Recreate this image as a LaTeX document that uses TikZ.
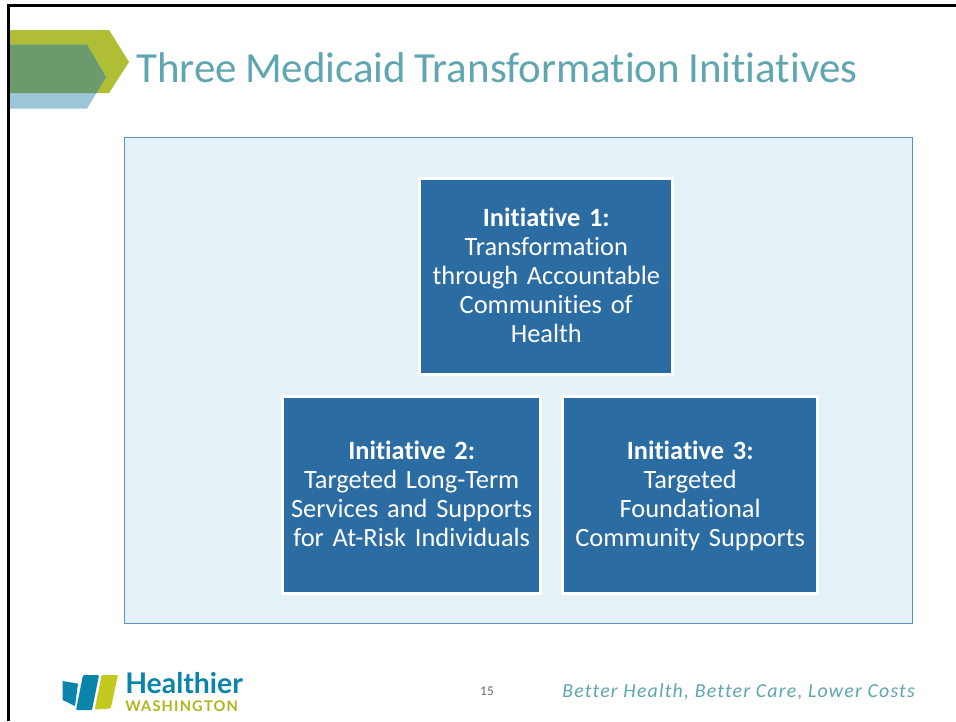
\documentclass[tikz,border=0pt]{standalone}
\usepackage{fontspec}
\setmainfont[Ligatures=NoCommon,WordSpace=0.85]{Carlito}
\newfontfamily\logofont{Lato}
\newfontfamily\washfont[LetterSpace=8.0]{Lato}
\newfontfamily\tagfont[LetterSpace=6.0,Ligatures=NoCommon]{Carlito}
\definecolor{slideolive}{HTML}{AFBE35}
\definecolor{slidegreen}{HTML}{6B9A6C}
\definecolor{slidesky}{HTML}{9DC5D8}
\definecolor{slideteal}{HTML}{5FA6B0}
\definecolor{panelfill}{HTML}{E4F1F6}
\definecolor{panelline}{HTML}{5B8FC7}
\definecolor{boxblue}{HTML}{2B6CA3}
\definecolor{logoblue}{HTML}{0A84AB}
\definecolor{logoolive}{HTML}{C3C91F}
\tikzset{
  initbox/.style={draw=white, line width=2.25pt, fill=boxblue, text=white, align=center,
    font=\fontsize{19.8}{21.75}\selectfont, inner sep=0pt, text width=182pt,
    execute at begin node={\rule{0pt}{19pt}}, execute at end node=\strut}
}
\begin{document}
\begin{tikzpicture}[x=0.75pt, y=-0.75pt]
    \useasboundingbox (0,0) rectangle (956,721);

    % Slide edge
    \fill[white] (0,0) rectangle (956,721);
    \draw[line width=2.3pt] (8.5,721) -- (8.5,5.5) -- (956,5.5);

    % Header arrows
    \fill[slideolive] (10,30) -- (109,30) -- (129,62) -- (109,93) -- (10,93) -- cycle;
    \fill[slidesky] (10,44.7) -- (87,44.7) -- (106,77) -- (87,108.7) -- (10,108.7) -- cycle;
    \fill[slidegreen] (10,44.7) -- (87,44.7) -- (106,77) -- (96.5,93) -- (10,93) -- cycle;
    \node[text=slideteal, font=\fontsize{32.2}{38}\selectfont, inner sep=0pt, anchor=base west] (title) at (136,82) {Three Medicaid Transformation Initiatives};

    % Panel
    \node[draw=panelline, fill=panelfill, line width=0.8pt, minimum width=591.5pt, minimum height=364.5pt, inner sep=0pt] (panel) at (518.5,380.5) {};

    % Nodes
    \node[initbox, minimum width=189.5pt, minimum height=147pt] (init1) at (546.3,276.2) {\textbf{Initiative 1:}\\Transformation\\through Accountable\\Communities of\\Health};
    \node[initbox, minimum width=193.5pt, minimum height=147.6pt] (init2) at (411.7,494.9) {\textbf{Initiative 2:}\\Targeted Long-Term\\Services and Supports\\for At-Risk Individuals};
    \node[initbox, minimum width=191.6pt, minimum height=147.6pt] (init3) at (690.2,494.9) {\textbf{Initiative 3:}\\Targeted\\Foundational\\Community Supports};

    % Logo
    \fill[logoblue] (62.7,681) -- (78,683.7) -- (75,706) -- (62.7,700) -- cycle;
    \fill[logoblue, rounded corners=0.8pt] (83,675) -- (99,675) -- (92,710) -- (76,710) -- cycle;
    \fill[logoolive, rounded corners=0.8pt] (101.7,675) -- (118,675) -- (110.7,708.5) -- (94.7,709.5) -- cycle;
    \node[text=logoblue, font=\logofont\bfseries\fontsize{21.3}{24}\selectfont, inner sep=0pt, anchor=base west] (healthier) at (125,693) {Healthier};
    \node[text=logoolive!90!black, font=\washfont\bfseries\fontsize{11}{12}\selectfont, inner sep=0pt, anchor=base west] (washington) at (125,711) {WASHINGTON};

    % Footer
    \node[text=black!60, font=\fontsize{10}{12}\selectfont, inner sep=0pt] (pagenum) at (487,691) {15};
    \node[text=slideteal, font=\tagfont\itshape\fontsize{14.9}{18}\selectfont, inner sep=0pt, anchor=base east] (tagline) at (915,697) {Better Health, Better Care, Lower Costs};
\end{tikzpicture}
\end{document}
